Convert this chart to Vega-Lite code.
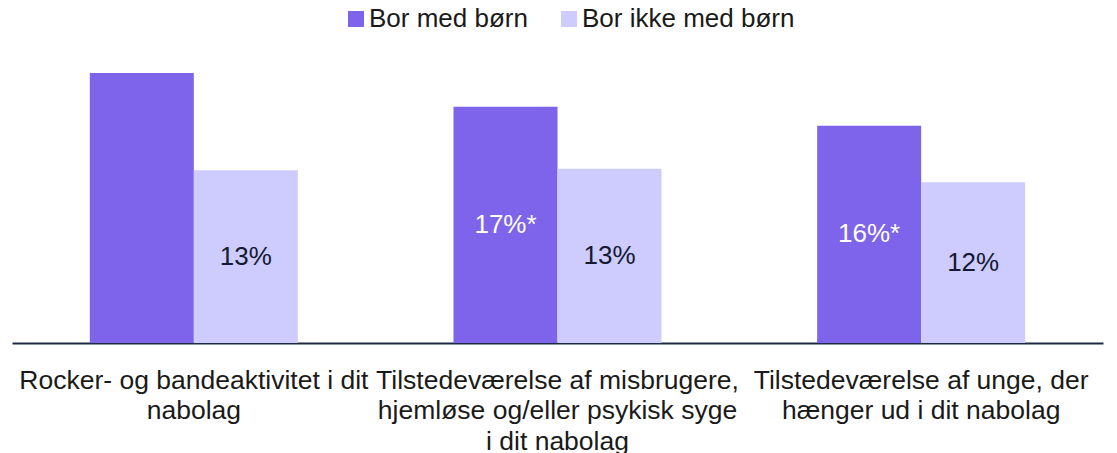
{
  "$schema": "https://vega.github.io/schema/vega-lite/v6.json",
  "width": 1091,
  "height": 297,
  "autosize": {"type": "none"},
  "padding": {"top": 46, "left": 12, "right": 14, "bottom": 110},
  "background": "white",
  "config": {
    "view": {"stroke": null},
    "font": "Liberation Sans"
  },
  "data": {
    "values": [
      {"kategori": "Rocker- og bandeaktivitet i dit|nabolag", "gruppe": "Bor med børn", "value": 20.0, "label": ""},
      {"kategori": "Rocker- og bandeaktivitet i dit|nabolag", "gruppe": "Bor ikke med børn", "value": 12.8, "label": "13%"},
      {"kategori": "Tilstedeværelse af misbrugere,|hjemløse og/eller psykisk syge|i dit nabolag", "gruppe": "Bor med børn", "value": 17.5, "label": "17%*"},
      {"kategori": "Tilstedeværelse af misbrugere,|hjemløse og/eller psykisk syge|i dit nabolag", "gruppe": "Bor ikke med børn", "value": 12.9, "label": "13%"},
      {"kategori": "Tilstedeværelse af unge, der|hænger ud i dit nabolag", "gruppe": "Bor med børn", "value": 16.1, "label": "16%*"},
      {"kategori": "Tilstedeværelse af unge, der|hænger ud i dit nabolag", "gruppe": "Bor ikke med børn", "value": 11.9, "label": "12%"}
    ]
  },
  "encoding": {
    "x": {
      "field": "kategori",
      "type": "nominal",
      "sort": null,
      "scale": {"paddingInner": 0.428, "paddingOuter": 0.214},
      "axis": {
        "title": null,
        "labelAngle": 0,
        "labelExpr": "split(datum.label, '|')",
        "labelFontSize": 26.5,
        "labelLineHeight": 30.5,
        "labelColor": "#1a1a1a",
        "labelPadding": 37,
        "labelBaseline": "middle",
        "labelLimit": 0,
        "ticks": false,
        "domainColor": "#1f2a44",
        "domainWidth": 2
      }
    },
    "xOffset": {"field": "gruppe", "type": "nominal", "sort": ["Bor med børn", "Bor ikke med børn"], "scale": {"paddingInner": 0}}
  },
  "layer": [
    {
      "mark": {"type": "bar"},
      "encoding": {
        "y": {"field": "value", "type": "quantitative", "scale": {"domain": [0, 22], "nice": false}, "axis": null},
        "color": {
          "field": "gruppe",
          "type": "nominal",
          "sort": ["Bor med børn", "Bor ikke med børn"],
          "scale": {"domain": ["Bor med børn", "Bor ikke med børn"], "range": ["#7D64EB", "#CECCFE"]},
          "legend": {
            "title": null,
            "orient": "none",
            "direction": "horizontal",
            "legendX": 331,
            "legendY": -40,
            "symbolType": "square",
            "symbolSize": 256,
            "symbolStrokeWidth": 0,
            "labelFontSize": 26,
            "labelColor": "#1a1a1a",
            "labelOffset": 0,
            "labelLimit": 0,
            "columnPadding": 28
          }
        }
      }
    },
    {
      "transform": [{"calculate": "datum.value / 2", "as": "mid"}],
      "mark": {"type": "text", "fontSize": 26, "baseline": "middle", "align": "center"},
      "encoding": {
        "y": {"field": "mid", "type": "quantitative", "scale": {"domain": [0, 22], "nice": false}},
        "text": {"field": "label"},
        "color": {
          "field": "gruppe",
          "type": "nominal",
          "scale": {"domain": ["Bor med børn", "Bor ikke med børn"], "range": ["#FFFFFF", "#141a33"]},
          "legend": null
        }
      }
    }
  ],
  "resolve": {"scale": {"color": "independent"}}
}
